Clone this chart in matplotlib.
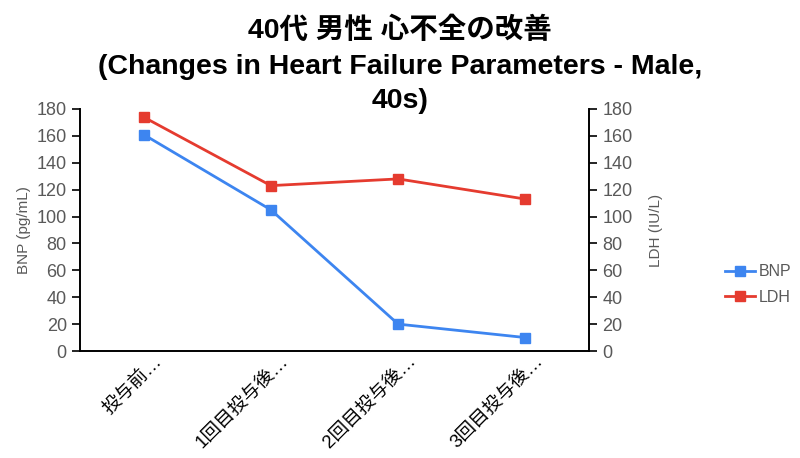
import matplotlib
matplotlib.use('Agg')
import matplotlib.pyplot as plt
import matplotlib.transforms as mtransforms

plt.rcParams['font.family'] = ['Liberation Sans', 'Noto Sans CJK JP', 'DejaVu Sans']

# data
categories = ['投与前…', '1回目投与後…', '2回目投与後…', '3回目投与後…']
bnp = [161, 105, 20, 10]
ldh = [174, 123, 128, 113]
yticks = list(range(0, 181, 20))
title_lines = ['40代 男性 心不全の改善',
               '(Changes in Heart Failure Parameters - Male,',
               '40s)']

gray = '#595959'
blue = '#3d85f0'
red = '#e53b2f'

W, H = 800, 458
fig = plt.figure(figsize=(W / 100, H / 100), dpi=100)
ax = fig.add_axes([80 / W, 1 - 351 / H, 509 / W, 242 / H])
ax2 = ax.twinx()

x = list(range(len(categories)))
l1, = ax.plot(x, bnp, color=blue, lw=2, marker='s', ms=7, label='BNP')
l2, = ax2.plot(x, ldh, color=red, lw=2, marker='s', ms=7, label='LDH')

for a in (ax, ax2):
    a.set_ylim(0, 180)
    a.set_yticks(yticks)
    a.tick_params(axis='y', colors='black', labelcolor=gray, labelsize=13, length=6, width=1.2)
    a.spines['top'].set_visible(False)
    for s in a.spines.values():
        s.set_linewidth(1.4)
ax.spines['right'].set_visible(False)
ax2.spines['left'].set_visible(False)
ax2.spines['bottom'].set_visible(False)

ax.set_xlim(-0.5, 3.5)
ax.set_xticks(x)
ax.set_xticklabels(categories, rotation=45, ha='right', rotation_mode='anchor',
                   fontsize=13.5, color='black')
ax.tick_params(axis='x', length=0, pad=8)
shift = mtransforms.ScaledTranslation(10 / 100, 9 / 100, fig.dpi_scale_trans)
for lab in ax.get_xticklabels():
    lab.set_transform(lab.get_transform() + shift)

ax.set_ylabel('BNP (pg/mL)', fontsize=11, color=gray, labelpad=4)
ax2.set_ylabel('LDH (IU/L)', fontsize=11, color=gray, labelpad=12)

for ypix, line in zip([30, 67, 101], title_lines):
    fig.text(0.5, 1 - ypix / H, line, ha='center', va='center',
             fontsize=20.5, fontweight='bold')

fig.legend([l1, l2], ['BNP', 'LDH'], loc='center left',
           bbox_to_anchor=(725 / W, 1 - 284.5 / H), borderaxespad=0, borderpad=0,
           frameon=False, fontsize=11.5, labelcolor=gray, handlelength=1.9,
           handletextpad=0.2, labelspacing=0.65)

fig.savefig('out.png', dpi=100)
